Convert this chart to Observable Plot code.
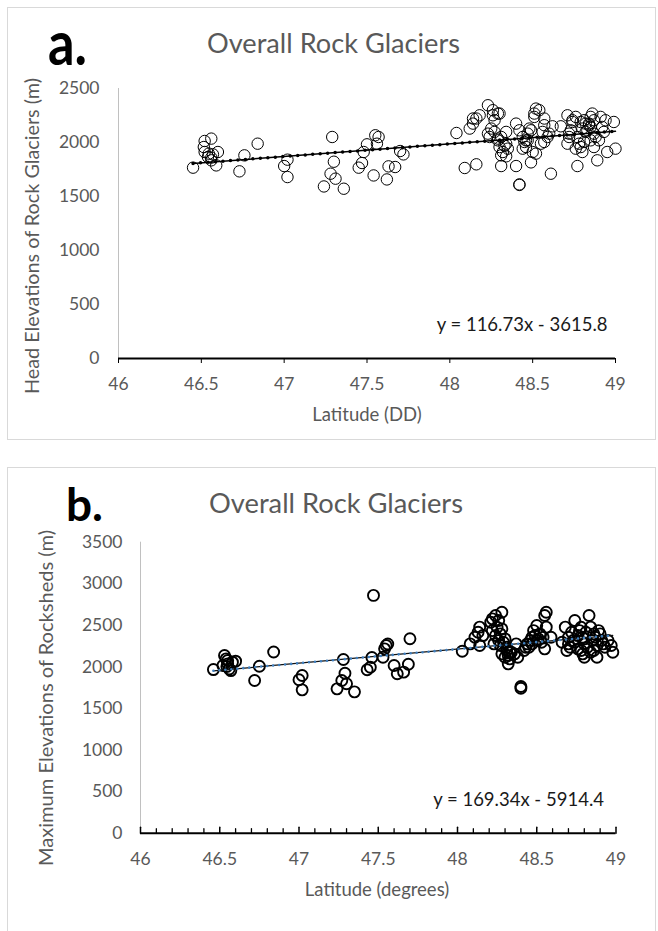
<!DOCTYPE html>
<html>
<head>
<meta charset="utf-8">
<script src="https://cdn.jsdelivr.net/npm/d3@7"></script>
<script src="https://cdn.jsdelivr.net/npm/@observablehq/plot@0.6"></script>
<style>
  html, body { margin: 0; padding: 0; background: #fff; overflow: hidden; }
  #wrap { position: relative; width: 658px; height: 931px; overflow: hidden; }
  .layer { position: absolute; left: 0; }
  svg { overflow: visible; }
</style>
</head>
<body>
<div id="wrap">
  <svg id="frames" class="layer" style="top:0" width="658" height="931"></svg>
  <div id="chartA" class="layer" style="top:0"></div>
  <div id="chartB" class="layer" style="top:450px"></div>
  <svg id="notes" class="layer" style="top:0;pointer-events:none" width="658" height="931"></svg>
</div>
<script>
// ---------- Panel a: head elevations of rock glaciers ----------
const latA = [
  46.45, 46.52, 46.56, 46.515, 46.52, 46.54, 46.56, 46.57, 46.60, 46.59, 46.545, 46.56,
  46.73, 46.76, 46.84, 47.00, 47.02, 47.02,
  47.29, 47.30, 47.28, 47.31, 47.24, 47.36,
  47.45, 47.47, 47.48, 47.50, 47.55, 47.57, 47.56, 47.54, 47.62, 47.63, 47.67, 47.70, 47.72,
  48.04, 48.09, 48.16, 48.12, 48.14, 48.16, 48.14, 48.18, 48.23, 48.26, 48.29, 48.26, 48.30,
  48.27, 48.25, 48.24, 48.27, 48.29, 48.30, 48.31, 48.32, 48.34, 48.31, 48.35, 48.31, 48.34,
  48.40, 48.40, 48.42, 48.42, 48.42, 48.44, 48.45, 48.46, 48.44, 48.47, 48.48, 48.49, 48.50,
  48.51, 48.52, 48.54, 48.51, 48.52, 48.55, 48.56, 48.57, 48.57, 48.59, 48.57, 48.61,
  48.67, 48.71, 48.72, 48.71, 48.72, 48.74, 48.77, 48.76, 48.79, 48.80, 48.77, 48.79, 48.80,
  48.81, 48.82, 48.84, 48.85, 48.86, 48.87, 48.85, 48.87, 48.85, 48.87, 48.89, 48.90, 48.91,
  48.92, 48.94, 48.95, 48.99, 49.00,
  48.74, 48.76, 48.82, 48.83, 48.81, 48.84, 48.88, 48.78, 48.73, 48.47, 48.49, 48.46, 48.33,
  48.34, 48.29, 48.23, 48.62, 48.60, 48.93
];
const elevA = [
  1767, 2014, 2036, 1958, 1912, 1866, 1835, 1890, 1912, 1788, 1897, 1860,
  1733, 1881, 1989, 1782, 1841, 1680,
  2051, 1822, 1711, 1665, 1593, 1572,
  1767, 1810, 1912, 1983, 2067, 2051, 1989, 1695, 1658, 1779, 1773, 1921, 1890,
  2088, 1764, 1798, 2129, 2175, 2222, 2222, 2252, 2345, 2299, 2268, 2252, 2268,
  2206, 2129, 2051, 2098, 2020, 1958, 1881, 1912, 1989, 2051, 1943, 1782, 1872,
  1782, 2175, 2113, 1612, 1607, 2051, 2005, 1958, 1943, 2082, 2129, 1816, 1912, 2268, 2314,
  2299, 2237, 1897, 1989, 2098, 2160, 2222, 2051, 2005, 1711, 2150, 2252,
  2082, 1989, 2051, 2206, 1782, 2237, 2190, 2129, 2051, 1958, 1912, 2005, 2098,
  2175, 2237, 2268, 2206, 2144, 2082, 2020, 1958, 1835, 2020, 2237, 2144, 2206,
  1912, 2190, 1943, 2190, 1943,
  2175, 2113, 2206, 2160, 2051, 1989, 2113, 2020, 2113, 2020, 1970, 2098, 2036,
  2082, 2150, 2082, 2098, 2129, 2237
];
const slopeA = 116.73, interceptA = -3615.8;
const equationA = "y = 116.73x - 3615.8";
const xTickValues = [46, 46.5, 47, 47.5, 48, 48.5, 49];
const yTicksA = [0, 500, 1000, 1500, 2000, 2500];

// ---------- Panel b: maximum elevations of rocksheds ----------
const latB = [
  46.46, 46.53, 46.54, 46.52, 46.55, 46.56, 46.58, 46.60, 46.57, 46.55, 46.545,
  46.72, 46.75, 46.84, 47.00, 47.02, 47.02,
  47.24, 47.28, 47.27, 47.29, 47.30, 47.35,
  47.43, 47.45, 47.46, 47.47, 47.53, 47.54, 47.55, 47.56, 47.60, 47.62, 47.66, 47.69, 47.70,
  48.03, 48.08, 48.11, 48.13, 48.14, 48.14, 48.16, 48.21, 48.22, 48.24, 48.26, 48.28,
  48.22, 48.24, 48.23, 48.26, 48.28, 48.30, 48.27, 48.31, 48.28, 48.30, 48.32, 48.32,
  48.34, 48.37, 48.38, 48.40, 48.40, 48.42, 48.43, 48.44, 48.46, 48.47, 48.48, 48.50,
  48.52, 48.50, 48.54, 48.55, 48.56, 48.55, 48.56, 48.59,
  48.66, 48.68, 48.69, 48.70, 48.70, 48.72, 48.73, 48.74, 48.76, 48.77, 48.79, 48.79,
  48.80, 48.80, 48.81, 48.83, 48.84, 48.85, 48.86, 48.86, 48.88, 48.88, 48.89, 48.91,
  48.93, 48.97, 48.98,
  48.25, 48.27, 48.29, 48.31, 48.33, 48.33, 48.36, 48.45, 48.47, 48.49, 48.51, 48.53,
  48.71, 48.74, 48.76, 48.78, 48.80, 48.82, 48.84, 48.87, 48.90, 48.92, 48.78, 48.95
];
const elevB = [
  1968, 2137, 2097, 2017, 2037, 1976, 2057, 2069, 1956, 2077, 2005,
  1836, 2008, 2180, 1846, 1896, 1724,
  1736, 2089, 1836, 1924, 1797, 1700,
  1966, 1996, 2113, 2860, 2117, 2217, 2257, 2275, 2017, 1918, 1937, 2032, 2338,
  2189, 2277, 2357, 2417, 2478, 2257, 2377, 2538, 2578, 2618, 2558, 2658,
  2437, 2377, 2277, 2317, 2457, 2337, 2257, 2237, 2157, 2117, 2137, 2037,
  2177, 2277, 2117, 1764, 1744, 2197, 2237, 2277, 2317, 2357, 2437, 2498,
  2397, 2317, 2357, 2618, 2658, 2217, 2478, 2357,
  2297, 2478, 2197, 2357, 2277, 2417, 2317, 2558, 2217, 2437, 2357, 2157,
  2277, 2117, 2417, 2618, 2478, 2317, 2197, 2397, 2117, 2257, 2437, 2317,
  2237, 2257, 2177,
  2477, 2397, 2297, 2197, 2097, 2177, 2157, 2237, 2277, 2377, 2337, 2297,
  2237, 2297, 2377, 2477, 2337, 2237, 2177, 2357, 2397, 2277, 2197, 2317
];
const slopeB = 169.34, interceptB = -5914.4;
const equationB = "y = 169.34x - 5914.4";
const yTicksB = [0, 500, 1000, 1500, 2000, 2500, 3000, 3500];
const allTicksB = d3.range(0, 31).map(i => +(46 + i * 0.1).toFixed(1));
const majorTicksB = allTicksB.filter((d, i) => i % 5 === 0);
const minorTicksB = allTicksB.filter((d, i) => i % 5 !== 0);

// ---------- texts ----------
const titleText = "Overall Rock Glaciers";
const yLabelA = "Head Elevations of Rock Glaciers (m)";
const xLabelA = "Latitude (DD)";
const yLabelB = "Maximum Elevations of Rocksheds (m)";
const xLabelB = "Latitude (degrees)";

const FONT = "Lato, 'Open Sans', sans-serif";
const GREY = "#595959";

const pointsA = latA.map((lat, i) => ({lat, elev: elevA[i]}));
const pointsB = latB.map((lat, i) => ({lat, elev: elevB[i]}));
const trendA = d3.extent(latA).map(lat => ({lat, elev: slopeA * lat + interceptA}));
const trendB = d3.extent(latB).map(lat => ({lat, elev: slopeB * lat + interceptB}));

const tickUp = {draw(context, l) { context.moveTo(0, 0); context.lineTo(0, -l); }};

const chartA = Plot.plot({
  width: 658, height: 440,
  marginLeft: 118, marginRight: 43, marginTop: 88, marginBottom: 82,
  style: {fontFamily: FONT, fontSize: "17px", color: GREY, background: "transparent", overflow: "visible"},
  x: {domain: [46, 49]},
  y: {domain: [0, 2500]},
  marks: [
    Plot.ruleX([46], {stroke: "#c0c0c0", strokeWidth: 1}),
    Plot.axisY({ticks: yTicksA, tickSize: 0, tickPadding: 19, label: null, tickFormat: d => String(d), fill: GREY, fontSize: 17.5}),
    Plot.axisX({ticks: xTickValues, tickSize: 5, tickPadding: 14, label: null, tickFormat: d => String(d), stroke: "black", fill: GREY, fontSize: 17.5}),
    Plot.dot(pointsA, {x: "lat", y: "elev", r: 5.7, stroke: "black", strokeWidth: 1, fill: "none"}),
    Plot.line(trendA, {x: "lat", y: "elev", stroke: "black", strokeWidth: 1.5}),
    Plot.line(trendA, {x: "lat", y: "elev", stroke: "black", strokeWidth: 3.5, strokeDasharray: "0 7.5", strokeLinecap: "round"}),
    Plot.ruleY([0], {stroke: "black", strokeWidth: 2}),
    Plot.text([equationA], {text: d => d, frameAnchor: "bottom-right", textAnchor: "end", lineAnchor: "middle", dx: -8, dy: -33, fontSize: 18.5, fill: "#1a1a1a"})
  ]
});
document.getElementById("chartA").append(chartA);

const chartB = Plot.plot({
  width: 658, height: 481,
  marginLeft: 140, marginRight: 42.5, marginTop: 91.7, marginBottom: 98.3,
  style: {fontFamily: FONT, fontSize: "17px", color: GREY, background: "transparent", overflow: "visible"},
  x: {domain: [46, 49]},
  y: {domain: [0, 3500]},
  marks: [
    Plot.ruleX([46], {stroke: "#c0c0c0", strokeWidth: 1}),
    Plot.axisY({ticks: yTicksB, tickSize: 0, tickPadding: 18, label: null, tickFormat: d => String(d), fill: GREY, fontSize: 17.5}),
    Plot.axisX({ticks: xTickValues, tickSize: 0, tickPadding: 19, label: null, tickFormat: d => String(d), fill: GREY, fontSize: 17.5}),
    Plot.vector(minorTicksB, {x: d => d, y: () => 0, length: 4.5, rotate: 0, anchor: "start", shape: tickUp, stroke: "black", strokeWidth: 1.3}),
    Plot.vector(majorTicksB, {x: d => d, y: () => 0, length: 6, rotate: 0, anchor: "start", shape: tickUp, stroke: "black", strokeWidth: 1.5}),
    Plot.dot(pointsB, {x: "lat", y: "elev", r: 5.5, stroke: "black", strokeWidth: 1.9, fill: "none"}),
    Plot.line(trendB, {x: "lat", y: "elev", stroke: "#111", strokeWidth: 1.2}),
    Plot.line(trendB, {x: "lat", y: "elev", stroke: "#3f7fbf", strokeWidth: 2.6, strokeDasharray: "0 6", strokeLinecap: "round"}),
    Plot.ruleY([0], {stroke: "black", strokeWidth: 2}),
    Plot.text([equationB], {text: d => d, frameAnchor: "bottom-right", textAnchor: "end", lineAnchor: "middle", dx: -12, dy: -33, fontSize: 18.5, fill: "#1a1a1a"})
  ]
});
document.getElementById("chartB").append(chartB);

// ---------- frames and annotation text ----------
const frames = d3.select("#frames");
frames.append("rect").attr("x", 7.5).attr("y", 7.5).attr("width", 648).attr("height", 432)
  .attr("fill", "none").attr("stroke", "#d9d9d9");
frames.append("rect").attr("x", 7.5).attr("y", 467.5).attr("width", 648).attr("height", 520)
  .attr("fill", "none").attr("stroke", "#d9d9d9");

const notes = d3.select("#notes").style("font-family", FONT);
function label(txt, x, y, opts) {
  const t = notes.append("text").attr("x", x).attr("y", y).text(txt)
    .attr("font-size", opts.size).attr("fill", opts.fill || GREY)
    .attr("text-anchor", opts.anchor || "start");
  if (opts.weight) t.attr("font-weight", opts.weight);
  if (opts.len) t.attr("textLength", opts.len).attr("lengthAdjust", "spacingAndGlyphs");
  if (opts.rotate) t.attr("transform", `rotate(${opts.rotate},${x},${y})`);
  return t;
}
// panel a
label("a.", 48, 65, {size: 62, weight: 700, fill: "#000", len: 39});
label(titleText, 207, 53, {size: 26, len: 253});
label(yLabelA, 39, 236, {size: 18.5, anchor: "middle", rotate: -90, len: 316});
label(xLabelA, 367, 421, {size: 18.5, anchor: "middle"});
// panel b
label("b.", 66, 521, {size: 46, weight: 700, fill: "#000", len: 37});
label(titleText, 209, 513, {size: 26, len: 254});
label(yLabelB, 53, 698, {size: 18.5, anchor: "middle", rotate: -90, len: 336});
label(xLabelB, 377, 896, {size: 18.5, anchor: "middle"});
</script>
</body>
</html>
